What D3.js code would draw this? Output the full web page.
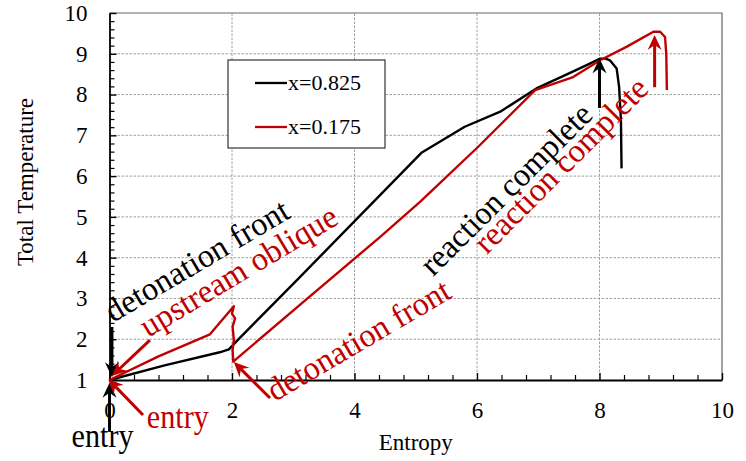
<!DOCTYPE html>
<html>
<head>
<meta charset="utf-8">
<script src="https://cdn.jsdelivr.net/npm/d3@7"></script>
<style>
  body { margin: 0; background: #fff; }
  svg, text { font-family: "Liberation Serif", "Times New Roman", serif; }
</style>
</head>
<body>
<div id="chart"></div>
<script>
// Total temperature vs entropy for two streamlines

// Series: x=0.825 (black)
const blackEntropy = [0, 0.9, 1.8, 1.95, 2.08, 3.06, 5.1, 5.8, 6.38, 6.97, 7.52, 7.79, 8.01, 8.1, 8.17, 8.28, 8.32, 8.35, 8.36];
const blackTemp = [1, 1.36, 1.68, 1.75, 1.96, 3.45, 6.58, 7.21, 7.58, 8.15, 8.53, 8.72, 8.88, 8.88, 8.84, 8.64, 8.19, 7.37, 6.19];

// Series: x=0.175 (red)
const redEntropy = [0, 0.8, 1.64, 2.03, 2.0, 2.05, 2.01, 2.03, 2.01, 2.02, 3.2, 4.42, 5.07, 6.02, 6.95, 7.57, 8.01, 8.44, 8.88, 8.99, 9.07, 9.09, 9.1];
const redTemp = [1, 1.58, 2.12, 2.81, 2.63, 2.51, 2.31, 1.98, 1.74, 1.45, 2.96, 4.51, 5.37, 6.72, 8.11, 8.43, 8.84, 9.17, 9.54, 9.54, 9.41, 9.0, 8.11];

// Legend labels
const legendLabels = ["x=0.825", "x=0.175"];

// Tick values
const xTicks = [0, 2, 4, 6, 8, 10];
const yTicks = [1, 2, 3, 4, 5, 6, 7, 8, 9, 10];

// Annotation labels (data coordinates of the baseline start, angle in degrees)
const noteText = ["detonation front", "upstream oblique", "detonation front", "reaction complete", "reaction complete", "entry", "entry"];
const noteX = [0.057, 0.63, 2.70, 5.28, 6.16, -0.62, 0.61];
const noteY = [2.40, 2.03, 0.46, 3.52, 4.06, -0.64, -0.18];
const noteAngle = [-30.6, -30.9, -30.5, -44.8, -45.2, 0, 0];
const noteLength = [208, 224, 207, 228, 232, 62, 62];
const noteSeries = [0, 1, 1, 0, 1, 0, 1];

// Annotation arrows (from -> to, data coordinates)
const arrowX1 = [0, 0.547, 0.04, 0.66, 2.62, 8.0, 8.9];
const arrowY1 = [-0.27, 0.14, 2.30, 1.98, 0.56, 7.67, 8.18];
const arrowX2 = [0, -0.02, 0.04, 0.04, 2.03, 8.0, 8.9];
const arrowY2 = [0.93, 1.02, 1.07, 1.10, 1.44, 8.89, 9.46];
const arrowSeries = [0, 1, 0, 1, 1, 0, 1];

const colors = ["#000000", "#c00000"];
const serif = "'Liberation Serif', 'Times New Roman', serif";

const width = 746;
const height = 461;
const margin = { top: 13, right: 24, bottom: 81, left: 109.5 };

const svg = d3.select("#chart")
    .append("svg")
    .attr("width", width)
    .attr("height", height)
    .attr("font-family", serif);

const x = d3.scaleLinear()
    .domain([0, 10])
    .range([margin.left, width - margin.right]);

const y = d3.scaleLinear()
    .domain([1, 10])
    .range([height - margin.bottom, margin.top]);

// Gridlines
const grid = svg.append("g")
    .attr("stroke", "#a0a0a0")
    .attr("stroke-width", 1)
    .attr("stroke-dasharray", "2.5,1.5");

grid.selectAll(".gx")
    .data(xTicks.filter(d => d > 0 && d < 10))
    .join("line")
    .attr("x1", d => x(d)).attr("x2", d => x(d))
    .attr("y1", y(1)).attr("y2", y(10));

grid.selectAll(".gy")
    .data(yTicks.filter(d => d > 1 && d < 10))
    .join("line")
    .attr("x1", x(0)).attr("x2", x(10))
    .attr("y1", d => y(d)).attr("y2", d => y(d));

// Top and right frame
svg.append("path")
    .attr("d", `M${x(0)},${y(10)}H${x(10)}V${y(1)}`)
    .attr("fill", "none")
    .attr("stroke", "#666")
    .attr("stroke-width", 1.2);

// Minor ticks
const xMinor = d3.range(0, 50).map(i => i * 0.4).filter(d => d < 10 && Math.abs(d / 2 - Math.round(d / 2)) > 0.01);
const yMinor = d3.range(0, 45).map(i => 1 + i * 0.2).filter(d => d < 10 && Math.abs(d - Math.round(d)) > 0.01);

svg.append("g")
    .attr("transform", `translate(0,${y(1)})`)
    .call(d3.axisBottom(x).tickValues(xMinor).tickSize(-5).tickSizeOuter(0).tickFormat(""))
    .call(g => g.select(".domain").remove())
    .call(g => g.selectAll("line").attr("stroke-width", 1.2));

svg.append("g")
    .attr("transform", `translate(${x(0)},0)`)
    .call(d3.axisLeft(y).tickValues(yMinor).tickSize(-5).tickSizeOuter(0).tickFormat(""))
    .call(g => g.select(".domain").remove())
    .call(g => g.selectAll("line").attr("stroke-width", 1.2));

// Major axes
svg.append("g")
    .attr("transform", `translate(0,${y(1)})`)
    .call(d3.axisBottom(x).tickValues(xTicks).tickSize(-7).tickSizeOuter(0).tickPadding(22))
    .attr("font-family", serif)
    .attr("font-size", 23)
    .call(g => g.select(".domain").attr("stroke-width", 1.8))
    .call(g => g.selectAll("line").attr("stroke-width", 1.4))
    .call(g => g.selectAll("text").attr("fill", "#000"));

svg.append("g")
    .attr("transform", `translate(${x(0)},0)`)
    .call(d3.axisLeft(y).tickValues(yTicks).tickSize(-7).tickSizeOuter(0).tickPadding(22))
    .attr("font-family", serif)
    .attr("font-size", 23)
    .call(g => g.select(".domain").attr("stroke-width", 1.8))
    .call(g => g.selectAll("line").attr("stroke-width", 1.4))
    .call(g => g.selectAll("text").attr("fill", "#000"));

// Axis titles
svg.append("text")
    .attr("x", x(5))
    .attr("y", 450)
    .attr("text-anchor", "middle")
    .attr("font-size", 23)
    .text("Entropy");

svg.append("text")
    .attr("transform", "translate(33,182) rotate(-90)")
    .attr("text-anchor", "middle")
    .attr("font-size", 23)
    .text("Total Temperature");

// Data lines
const line = d3.line()
    .x(d => x(d[0]))
    .y(d => y(d[1]));

const series = [
    d3.zip(blackEntropy, blackTemp),
    d3.zip(redEntropy, redTemp)
];

svg.selectAll(".series")
    .data(series)
    .join("path")
    .attr("class", "series")
    .attr("d", line)
    .attr("fill", "none")
    .attr("stroke", (d, i) => colors[i])
    .attr("stroke-width", 2.4)
    .attr("stroke-linejoin", "round");

// Arrow heads
const defs = svg.append("defs");
colors.forEach((c, i) => {
    defs.append("marker")
        .attr("id", "head" + i)
        .attr("viewBox", "-16 -8 17 16")
        .attr("refX", 0)
        .attr("refY", 0)
        .attr("markerWidth", 17)
        .attr("markerHeight", 16)
        .attr("markerUnits", "userSpaceOnUse")
        .attr("orient", "auto")
        .append("path")
        .attr("d", "M0,0L-15,-7L-10,0L-15,7Z")
        .attr("fill", c);
});

// Annotation arrows, the shaft stops a little before the tip
const arrows = d3.range(arrowX1.length).map(i => {
    const x1 = x(arrowX1[i]), y1 = y(arrowY1[i]);
    const x2 = x(arrowX2[i]), y2 = y(arrowY2[i]);
    const len = Math.hypot(x2 - x1, y2 - y1);
    return { x1, y1, x2, y2, len, s: arrowSeries[i] };
});

svg.selectAll(".shaft")
    .data(arrows)
    .join("line")
    .attr("class", "shaft")
    .attr("x1", d => d.x1).attr("y1", d => d.y1)
    .attr("x2", d => d.x2 - (d.x2 - d.x1) / d.len * 9)
    .attr("y2", d => d.y2 - (d.y2 - d.y1) / d.len * 9)
    .attr("stroke", d => colors[d.s])
    .attr("stroke-width", 3);

svg.selectAll(".tip")
    .data(arrows)
    .join("line")
    .attr("class", "tip")
    .attr("x1", d => d.x2 - (d.x2 - d.x1) / d.len * 10)
    .attr("y1", d => d.y2 - (d.y2 - d.y1) / d.len * 10)
    .attr("x2", d => d.x2).attr("y2", d => d.y2)
    .attr("stroke", "none")
    .attr("marker-end", d => `url(#head${d.s})`);

// Annotation labels
svg.selectAll(".note")
    .data(noteText)
    .join("text")
    .attr("class", "note")
    .attr("transform", (d, i) => `translate(${x(noteX[i])},${y(noteY[i])}) rotate(${noteAngle[i]})`)
    .attr("font-size", 33)
    .attr("textLength", (d, i) => noteLength[i])
    .attr("lengthAdjust", "spacingAndGlyphs")
    .attr("fill", (d, i) => colors[noteSeries[i]])
    .text(d => d);

// Legend
const legend = svg.append("g");
legend.append("rect")
    .attr("x", 228).attr("y", 60)
    .attr("width", 157).attr("height", 88)
    .attr("fill", "#fff")
    .attr("stroke", "#333")
    .attr("stroke-width", 1.2);

const legendRow = legend.selectAll(".row")
    .data(legendLabels)
    .join("g")
    .attr("class", "row")
    .attr("transform", (d, i) => `translate(255,${83 + i * 44})`);

legendRow.append("line")
    .attr("x1", 0).attr("x2", 32)
    .attr("stroke", (d, i) => colors[i])
    .attr("stroke-width", 2.3);

legendRow.append("text")
    .attr("x", 33)
    .attr("dy", "0.33em")
    .attr("font-size", 22)
    .text(d => d);
</script>
</body>
</html>
